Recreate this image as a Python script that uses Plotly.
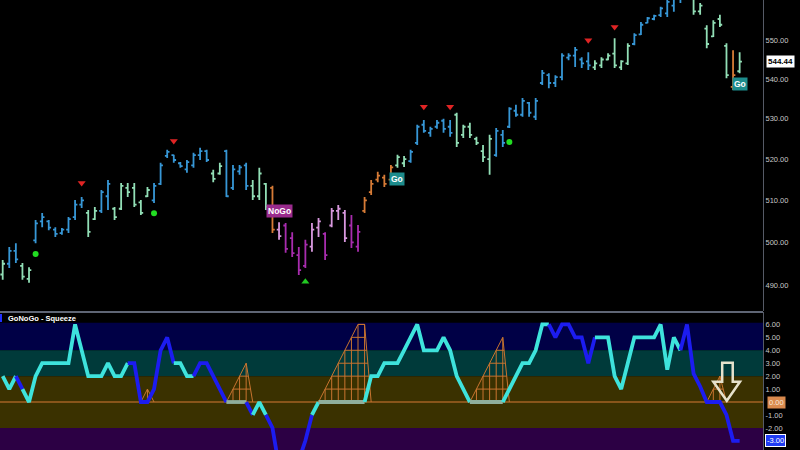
import math
import plotly.graph_objects as go

# ---------------- data ----------------
N = 113
bar_idx = list(range(N))

high = [495.9, 498.9, 499.8, 495.2, 494.2, 505.3, 507.0, 505.3, 503.6, 503.4,
        506.0, 510.1, 510.8, 507.7, 508.4, 512.5, 514.9, 508.4, 514.2, 514.2,
        514.2, 510.1, 513.2, 514.2, 519.1, 522.3, 521.1, 519.3, 519.8, 521.6,
        522.8, 522.3, 517.4, 519.1, 522.3, 518.6, 518.6, 519.1, 514.9, 517.9,
        514.2, 513.5, 504.8, 504.6, 502.4, 498.9, 500.6, 504.6, 505.8, 502.4,
        508.2, 508.9, 507.7, 506.5, 504.1, 510.8, 514.9, 516.9, 516.2, 518.6,
        521.1, 520.8, 522.3, 528.5, 529.7, 528.0, 529.7, 530.0, 529.7, 531.5,
        528.5, 529.0, 525.5, 523.5, 526.0, 527.7, 527.2, 532.9, 533.5, 535.2,
        534.2, 535.2, 542.3, 541.5, 541.0, 546.6, 546.6, 548.2, 545.6, 546.9,
        544.8, 545.6, 546.6, 550.5, 544.8, 549.2, 551.8, 554.7, 556.0, 556.6,
        558.7, 562.0, 563.0, 565.0, 566.0, 562.0, 559.7, 553.9, 555.2, 556.6,
        549.2, 547.4, 546.9]
low = [491.3, 494.0, 495.2, 491.3, 490.6, 499.8, 503.6, 502.9, 501.3, 501.8,
       502.2, 505.3, 508.2, 501.3, 505.3, 507.0, 507.7, 505.3, 507.7, 510.8,
       508.4, 506.5, 510.8, 509.4, 513.7, 520.3, 519.1, 517.9, 516.7, 517.9,
       519.8, 519.3, 514.4, 516.2, 510.8, 512.5, 516.2, 512.5, 510.1, 510.1,
       507.7, 502.2, 500.6, 497.6, 496.6, 492.4, 494.0, 497.8, 501.3, 495.9,
       503.6, 505.3, 500.1, 498.7, 497.8, 507.0, 511.3, 514.4, 513.2, 514.4,
       517.9, 518.1, 519.1, 523.5, 526.5, 525.5, 527.5, 526.5, 525.5, 523.0,
       525.2, 525.2, 523.5, 519.3, 516.2, 520.6, 523.0, 527.7, 530.5, 530.5,
       530.5, 529.7, 538.5, 537.7, 538.0, 539.7, 544.8, 543.1, 542.8, 542.3,
       542.3, 542.8, 544.8, 542.8, 542.3, 543.6, 548.7, 551.3, 554.4, 555.2,
       556.0, 556.0, 557.4, 559.7, 561.5, 556.6, 556.6, 547.9, 550.8, 553.4,
       540.2, 537.2, 541.5]
open_ = [492.5, 495.0, 498.0, 494.5, 491.5, 500.5, 505.0, 505.0, 503.0, 502.2,
         503.0, 506.0, 509.0, 507.0, 505.5, 507.5, 511.0, 508.0, 508.0, 513.0,
         513.0, 509.5, 511.0, 510.0, 514.0, 520.8, 521.0, 519.0, 517.5, 518.5,
         521.0, 522.0, 516.5, 516.5, 522.0, 513.0, 517.0, 518.5, 513.5, 511.0,
         514.0, 513.0, 503.0, 504.0, 501.0, 497.0, 494.5, 499.0, 503.5, 502.0,
         504.0, 507.5, 507.0, 504.0, 499.0, 507.5, 512.0, 515.0, 515.5, 515.0,
         518.5, 519.0, 519.5, 524.0, 528.5, 526.5, 528.0, 529.5, 528.0, 531.0,
         526.0, 528.0, 525.0, 522.0, 520.0, 521.0, 526.0, 528.0, 532.0, 531.0,
         534.0, 530.5, 539.0, 541.0, 539.0, 540.5, 545.5, 546.0, 545.0, 544.5,
         543.0, 543.5, 545.0, 546.5, 543.0, 544.0, 549.0, 551.5, 554.5, 555.5,
         556.5, 557.0, 559.0, 562.0, 563.0, 561.0, 557.5, 553.0, 551.0, 555.5,
         548.5, 538.0, 542.0]
close = [495.0, 498.0, 496.0, 492.0, 493.5, 504.5, 506.0, 503.5, 502.0, 503.0,
         505.5, 509.0, 510.0, 502.5, 507.5, 512.0, 514.0, 506.0, 513.5, 512.0,
         509.0, 507.0, 512.5, 513.5, 518.5, 521.8, 519.8, 518.3, 519.3, 521.0,
         522.0, 519.8, 515.2, 518.3, 511.0, 517.5, 518.0, 513.5, 511.0, 516.5,
         508.5, 503.0, 501.5, 498.5, 497.5, 493.5, 499.5, 503.0, 505.0, 497.0,
         507.5, 508.0, 501.0, 500.0, 502.5, 510.0, 514.0, 516.0, 514.0, 518.0,
         520.5, 520.0, 521.8, 528.0, 527.0, 527.5, 529.0, 527.5, 526.5, 524.0,
         528.0, 526.0, 524.0, 520.5, 525.0, 527.0, 524.0, 532.5, 531.0, 534.5,
         531.5, 534.5, 541.5, 539.0, 540.5, 546.0, 546.0, 547.5, 544.0, 543.5,
         544.0, 545.0, 546.0, 543.5, 544.5, 548.5, 551.3, 554.0, 555.7, 556.3,
         558.3, 560.0, 561.0, 563.0, 562.5, 557.5, 559.0, 549.0, 554.5, 554.0,
         541.0, 541.0, 544.44]

# GoNoGo state per bar: G strong Go, g weak Go, o neutral, p weak NoGo, P strong NoGo
bar_state = ("g" "GG" "gg" "GGGGGGGG" "gg" "GG" "gggggg" "GGGGGGGGG" "gg" "GGGG"
             "ggg" "o" "p" "PPPP" "pp" "P" "ppp" "PP" "ooooo" "gg" "GGGGGGG"
             "gggggg" "GGGGGGGGGGGGGGG" "gggggg" "GGGGGGGGG" "gggggg" "o" "g")

# oscillator values
osc = [2, 1, 2, 1, 0, 2, 3, 3, 3, 3,
       3, 6, 4, 2, 2, 2, 3, 2, 2, 3,
       3, 0, 0, 1, 4, 5, 3, 3, 2, 2,
       3, 3, 2, 1, 0, 0, 0, 0, -1, 0,
       -1, -2, -5, -6, -6, -4.5, -3, -1, 0, 0,
       0, 0, 0, 0, 0, 0, 2, 2, 3, 3,
       3, 4, 5, 6, 4, 4, 4, 5, 4, 2,
       1, 0, 0, 0, 0, 0, 0, 1, 2, 3,
       3, 4, 6, 6, 5, 6, 6, 5, 5, 3,
       5, 5, 5, 2, 1, 3, 5, 5, 5, 5,
       6, 2.5, 5, 4, 6, 2.2, 1.2, 0, 0, 0,
       -1, -3, -3]
# c = above (cyan), b = below (blue), g = squeeze at zero
osc_state = ("ccc" "b" "cccccccccccccccc" "bbbbbbb" "ccc" "bbbbb" "ggg" "b" "cc"
             "bbbbbbb" "c" "ggggggg" "cccccccccccccccc" "ggggg" "ccccccc"
             "bbbbbbb" "ccccccccccccc" "bbbbbbbbb")

# squeeze ladder levels (None = no squeeze)
squeeze = [None] * N
for i, v in zip([21, 22, 23], [0, 1, 0]):
    squeeze[i] = v
for i, v in zip([34, 35, 36, 37, 38], [0, 1, 2, 3, 0]):
    squeeze[i] = v
for i, v in zip([48, 49, 50, 51, 52, 53, 54, 55, 56], [0, 1, 2, 3, 4, 5, 6, 6, 0]):
    squeeze[i] = v
for i, v in zip([71, 72, 73, 74, 75, 76, 77], [0, 1, 2, 3, 4, 5, 0]):
    squeeze[i] = v
for i, v in zip([107, 108, 109, 110], [0, 1, 2, 0]):
    squeeze[i] = v

dot_idx = [5, 23, 77]
dot_price = [497.3, 506.9, 524.2]
down_idx = [12, 26, 64, 68, 89, 93]
down_price = [514.2, 524.5, 533.0, 533.0, 550.0, 553.4]
up_idx = [46]
up_price = [490.8]

label_text = ["NoGo", "Go", "Go"]
label_idx = [42, 60, 112]
label_price = [507.5, 515.2, 538.8]
label_kind = ["nogo", "go", "go"]

price_ticks = [490, 500, 510, 520, 530, 540, 550, 560]
osc_ticks = [6, 5, 4, 3, 2, 1, -1, -2]
last_price = 544.44
zero_level = 0.0
last_osc = -3.0

# ---------------- styling ----------------
BAR_COL = {"G": "#3797d6", "g": "#92dfb6", "o": "#d67b36", "p": "#d898de", "P": "#a82cae"}
OSC_COL = {"c": "#3ee3dc", "b": "#1c1cf0", "g": "#8fae9c"}
LABEL_BG = {"go": "#1d8c8c", "nogo": "#9a2b8d"}
FONT = "Liberation Sans, Arial"

assert len(bar_state) == N and len(osc_state) == N and len(osc) == N

fig = go.Figure()

for st, col in BAR_COL.items():
    ids = [i for i in bar_idx if bar_state[i] == st]
    fig.add_trace(go.Ohlc(
        x=ids, open=[open_[i] for i in ids], high=[high[i] for i in ids],
        low=[low[i] for i in ids], close=[close[i] for i in ids],
        increasing=dict(line=dict(color=col, width=1.8)),
        decreasing=dict(line=dict(color=col, width=1.8)),
        tickwidth=0.35, xaxis="x", yaxis="y", hoverinfo="skip"))

fig.add_trace(go.Scatter(x=dot_idx, y=dot_price, mode="markers",
                         marker=dict(symbol="circle", size=6, color="#22dd22"),
                         xaxis="x", yaxis="y", hoverinfo="skip"))
fig.add_trace(go.Scatter(x=down_idx, y=down_price, mode="markers",
                         marker=dict(symbol="triangle-down", size=7, color="#e02424"),
                         xaxis="x", yaxis="y", hoverinfo="skip"))
fig.add_trace(go.Scatter(x=up_idx, y=up_price, mode="markers",
                         marker=dict(symbol="triangle-up", size=7, color="#22c822"),
                         xaxis="x", yaxis="y", hoverinfo="skip"))

# squeeze ladders
lx, ly = [], []
groups, cur = [], []
for i in bar_idx:
    if squeeze[i] is not None:
        cur.append(i)
    elif cur:
        groups.append(cur)
        cur = []
if cur:
    groups.append(cur)
for g in groups:
    xs = g
    ys = [squeeze[i] for i in g]
    lx += xs + [None]
    ly += ys + [None]
    for i in g:
        if squeeze[i] > 0:
            lx += [i, i, None]
            ly += [0, squeeze[i], None]
    for lvl in range(1, int(max(ys)) + 1):
        cr = []
        for k in range(len(xs) - 1):
            y0, y1 = ys[k], ys[k + 1]
            if y0 != y1 and min(y0, y1) <= lvl <= max(y0, y1):
                t = (lvl - y0) / (y1 - y0)
                cr.append(xs[k] + t * (xs[k + 1] - xs[k]))
            elif y0 == y1 == lvl:
                cr += [xs[k], xs[k + 1]]
        if cr:
            lx += [min(cr), max(cr), None]
            ly += [lvl, lvl, None]
fig.add_trace(go.Scatter(x=lx, y=ly, mode="lines", line=dict(color="#c8742f", width=1),
                         xaxis="x2", yaxis="y2", hoverinfo="skip"))

# oscillator line, coloured runs
runs = []
for i in range(1, N):
    c = osc_state[i]
    if runs and runs[-1][0] == c and runs[-1][2] == i - 1:
        runs[-1][2] = i
    else:
        runs.append([c, i - 1, i])
for c, a, b in runs:
    fig.add_trace(go.Scatter(x=bar_idx[a:b + 1], y=osc[a:b + 1], mode="lines",
                             line=dict(color=OSC_COL[c], width=3.8),
                             xaxis="x2", yaxis="y2", hoverinfo="skip"))

# ---------------- layout ----------------
XR = [-0.41, 115.55]
Y1 = [math.log10(484.1), math.log10(560.5)]
Y2 = [-3.71, 6.96]
tickfont = dict(color="#c8c8c8", size=7.5, family=FONT)

shapes = []
bands = [(4, 6.12, "#000046"), (2, 4, "#003a3a"), (-2, 2, "#3a3100"), (-10, -2, "#2c0044")]
for y0, y1, col in bands:
    shapes.append(dict(type="rect", xref="x2 domain", x0=0, x1=1, yref="y2", y0=y0, y1=y1,
                       fillcolor=col, line=dict(width=0), layer="below"))
shapes.append(dict(type="line", xref="x2 domain", x0=0, x1=1, yref="y2", y0=0, y1=0,
                   line=dict(color="#d67a35", width=1.2), layer="below"))
shapes.append(dict(type="line", xref="paper", x0=0, x1=1, yref="paper",
                   y0=138 / 450, y1=138 / 450, line=dict(color="#5f6675", width=2)))
shapes.append(dict(type="rect", xref="paper", x0=0.0, x1=2 / 763, yref="paper",
                   y0=(450 - 322) / 450, y1=(450 - 314) / 450,
                   fillcolor="#2030ff", line=dict(width=0)))
arrow = "M 109.35 3.04 L 110.95 3.04 L 110.95 1.57 L 112.05 1.57 L 110.05 0.1 L 108.0 1.57 L 109.35 1.57 Z"
shapes.append(dict(type="path", xref="x2", yref="y2", path=arrow,
                   line=dict(color="#e6e2cc", width=2.5), fillcolor="rgba(0,0,0,0)"))

annotations = []
for t, i, p, k in zip(label_text, label_idx, label_price, label_kind):
    annotations.append(dict(x=i, y=math.log10(p), xref="x", yref="y", text="<b>%s</b>" % t,
                            showarrow=False, bgcolor=LABEL_BG[k], borderpad=1,
                            font=dict(color="white", size=8.5, family=FONT)))
annotations.append(dict(x=1, xref="paper", xanchor="left", xshift=3, y=math.log10(last_price),
                        yref="y", text="<b>%.2f</b>" % last_price, showarrow=False,
                        bgcolor="#ffffff", borderpad=1,
                        font=dict(color="#000000", size=8, family=FONT)))
annotations.append(dict(x=1, xref="paper", xanchor="left", xshift=4, y=zero_level, yref="y2",
                        text="%.2f" % zero_level, showarrow=False, bgcolor="#d98a4e", borderpad=1,
                        font=dict(color="#f6e6d6", size=7.5, family=FONT)))
annotations.append(dict(x=1, xref="paper", xanchor="left", xshift=2, y=last_osc, yref="y2",
                        text="%.2f" % last_osc, showarrow=False, bgcolor="#1f3cf2",
                        bordercolor="#ffffff", borderwidth=1, borderpad=1,
                        font=dict(color="#ffffff", size=7.5, family=FONT)))
annotations.append(dict(x=6 / 763, xref="paper", xanchor="left", y=(450 - 318) / 450, yref="paper",
                        yanchor="middle", text="<b>GoNoGo - Squeeze</b>", showarrow=False,
                        font=dict(color="#ffffff", size=7.5, family=FONT)))

fig.update_layout(
    width=800, height=450, margin=dict(l=0, r=37, t=0, b=0),
    paper_bgcolor="#000000", plot_bgcolor="#000000", showlegend=False,
    xaxis=dict(domain=[0, 1], range=XR, visible=False, anchor="y",
               rangeslider=dict(visible=False)),
    yaxis=dict(domain=[139 / 450, 1], type="log", range=Y1, side="right",
               tickvals=price_ticks, ticktext=["%.2f" % v for v in price_ticks],
               showgrid=False, zeroline=False, showline=True, linecolor="#555a66",
               linewidth=1, ticks="", tickfont=tickfont),
    xaxis2=dict(domain=[0, 1], range=XR, visible=False, anchor="y2",
                rangeslider=dict(visible=False)),
    yaxis2=dict(domain=[0, 138 / 450], range=Y2, side="right",
                tickvals=osc_ticks, ticktext=["%.2f" % v for v in osc_ticks],
                showgrid=False, zeroline=False, showline=True, linecolor="#555a66",
                linewidth=1, ticks="", tickfont=tickfont),
    shapes=shapes, annotations=annotations,
)

fig.write_html("out.html", config={"displayModeBar": False},
               post_script="document.body.style.margin='0px';document.body.style.overflow='hidden';document.body.style.background='#000';")
